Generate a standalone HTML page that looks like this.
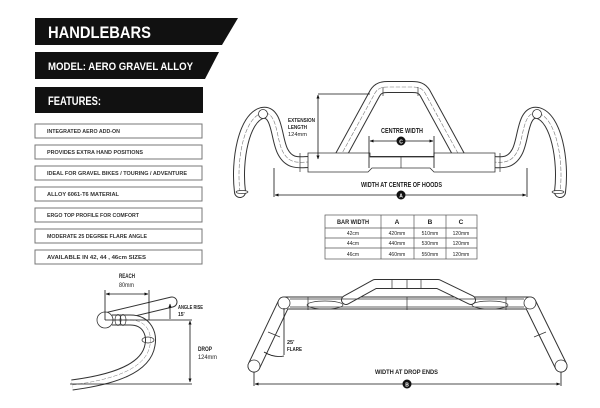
<!DOCTYPE html>
<html><head><meta charset="utf-8"><style>
html,body{margin:0;padding:0;background:#fff;}
svg{display:block;font-family:"Liberation Sans Narrow","Liberation Sans",sans-serif;font-weight:bold;}
</style></head><body>
<svg width="600" height="408" viewBox="0 0 600 408" xmlns="http://www.w3.org/2000/svg">
<defs>
<marker id="ar" viewBox="0 0 10 10" refX="9" refY="5" markerWidth="5" markerHeight="5" orient="auto-start-reverse"><path d="M0,1 L10,5 L0,9 z" fill="#111"/></marker>
</defs>
<!-- Banners -->
<polygon points="35,18 238,18 222,45 35,45" fill="#111"/>
<text x="48" y="38" fill="#fff" font-size="17" textLength="103" lengthAdjust="spacingAndGlyphs">HANDLEBARS</text>
<polygon points="35,52 219,52 205,79 35,79" fill="#111"/>
<text x="48" y="70" fill="#fff" font-size="11" textLength="145" lengthAdjust="spacingAndGlyphs">MODEL: AERO GRAVEL ALLOY</text>
<rect x="35" y="87" width="168" height="26" fill="#111"/>
<text x="48" y="105" fill="#fff" font-size="12" textLength="53" lengthAdjust="spacingAndGlyphs">FEATURES:</text>
<g fill="#fff" stroke="#777" stroke-width="1">
<rect x="35" y="124" width="167" height="14"/><rect x="35" y="145" width="167" height="14"/>
<rect x="35" y="166" width="167" height="14"/><rect x="35" y="187" width="167" height="14"/>
<rect x="35" y="208" width="167" height="14"/><rect x="35" y="229" width="167" height="14"/>
<rect x="35" y="250" width="167" height="14"/>
</g>
<g font-size="5" fill="#333" lengthAdjust="spacingAndGlyphs">
<text x="47" y="133" textLength="73" lengthAdjust="spacingAndGlyphs">INTEGRATED AERO ADD-ON</text>
<text x="47" y="154" textLength="96" lengthAdjust="spacingAndGlyphs">PROVIDES EXTRA HAND POSITIONS</text>
<text x="47" y="175" textLength="140" lengthAdjust="spacingAndGlyphs">IDEAL FOR GRAVEL BIKES / TOURING / ADVENTURE</text>
<text x="47" y="196" textLength="72" lengthAdjust="spacingAndGlyphs">ALLOY 6061-T6 MATERIAL</text>
<text x="47" y="217" textLength="92" lengthAdjust="spacingAndGlyphs">ERGO TOP PROFILE FOR COMFORT</text>
<text x="47" y="238" textLength="100" lengthAdjust="spacingAndGlyphs">MODERATE 25 DEGREE FLARE ANGLE</text>
<text x="47" y="259" textLength="99" lengthAdjust="spacingAndGlyphs">AVAILABLE IN 42, 44 , 46cm SIZES</text>
</g>

<!-- Top right handlebar -->
<g fill="none" stroke-linecap="round" stroke-linejoin="round">
<g stroke="#333" stroke-width="12">
<path d="M240,192 C236,160 244,118 262,113 C278,110 276,140 283,152 C290,165 300,162 310,162 L490,162 C500,162 510,165 517,152 C524,140 522,110 538,113 C556,118 564,160 560,192"/>
<path d="M340,157 L375,93 C378,88 382,87 388,87 L412,87 C418,87 422,88 425,93 L460,157"/>
</g>
<g stroke="#fff" stroke-width="10">
<path d="M240,192 C236,160 244,118 262,113 C278,110 276,140 283,152 C290,165 300,162 310,162 L490,162 C500,162 510,165 517,152 C524,140 522,110 538,113 C556,118 564,160 560,192"/>
<path d="M340,157 L375,93 C378,88 382,87 388,87 L412,87 C418,87 422,88 425,93 L460,157"/>
</g>
<path d="M240,192 C236,160 244,118 262,113 C278,110 276,140 283,152 C290,165 300,162 310,162 L490,162 C500,162 510,165 517,152 C524,140 522,110 538,113 C556,118 564,160 560,192" stroke="#777" stroke-width="0.6" stroke-dasharray="4,2"/>
<path d="M340,157 L375,93 C378,88 382,87 388,87 L412,87 C418,87 422,88 425,93 L460,157" stroke="#777" stroke-width="0.6" stroke-dasharray="4,2"/>
</g>
<path d="M308,153 L370,153 L370,157 L434,157 L434,153 L495,153 L495,172 L434,172 L430,168 L372,168 L368,172 L308,172 z" fill="#fff" stroke="#333" stroke-width="0.8"/>
<g stroke="#333" stroke-width="0.7">
<line x1="300" y1="153" x2="300" y2="172"/><line x1="500" y1="153" x2="500" y2="172"/>
<line x1="401" y1="157" x2="401" y2="168"/><line x1="383" y1="87" x2="383" y2="96"/><line x1="418" y1="87" x2="418" y2="96"/>
</g>
<circle cx="263" cy="114" r="4.5" fill="#fff" stroke="#333" stroke-width="0.8"/>
<circle cx="537" cy="114" r="4.5" fill="#fff" stroke="#333" stroke-width="0.8"/>
<ellipse cx="242" cy="192" rx="6" ry="1.5" fill="#fff" stroke="#333" stroke-width="0.7"/>
<ellipse cx="558" cy="192" rx="6" ry="1.5" fill="#fff" stroke="#333" stroke-width="0.7"/>
<g stroke="#111" stroke-width="0.8" fill="none">
<line x1="318" y1="94" x2="370" y2="94"/>
<line x1="318" y1="95" x2="318" y2="159" marker-start="url(#ar)" marker-end="url(#ar)"/>
<line x1="369" y1="136" x2="369" y2="168"/><line x1="434" y1="136" x2="434" y2="168"/>
<line x1="370" y1="141" x2="433" y2="141" marker-start="url(#ar)" marker-end="url(#ar)"/>
<line x1="274" y1="168" x2="274" y2="197"/><line x1="527" y1="168" x2="527" y2="197"/>
<line x1="275" y1="195" x2="526" y2="195" marker-start="url(#ar)" marker-end="url(#ar)"/>
</g>
<g font-size="5.5" fill="#222">
<text x="288" y="122" textLength="27" lengthAdjust="spacingAndGlyphs">EXTENSION</text><text x="288" y="129" textLength="19" lengthAdjust="spacingAndGlyphs">LENGTH</text><text x="288" y="136" font-weight="normal" textLength="19" lengthAdjust="spacingAndGlyphs">124mm</text>
</g>
<text x="381" y="133" font-size="7" fill="#222" textLength="42" lengthAdjust="spacingAndGlyphs">CENTRE WIDTH</text>
<text x="361" y="187" font-size="7" fill="#222" textLength="81" lengthAdjust="spacingAndGlyphs">WIDTH AT CENTRE OF HOODS</text>
<circle cx="401" cy="141" r="4.5" fill="#111"/><text x="401" y="143.5" font-size="5" fill="#fff" text-anchor="middle">C</text>
<circle cx="401" cy="195" r="4.5" fill="#111"/><text x="401" y="197.5" font-size="5" fill="#fff" text-anchor="middle">A</text>

<!-- Table -->
<g stroke="#555" stroke-width="0.7" fill="none">
<rect x="325" y="215" width="152" height="44"/>
<line x1="325" y1="228" x2="477" y2="228"/><line x1="325" y1="238" x2="477" y2="238"/><line x1="325" y1="248" x2="477" y2="248"/>
<line x1="381" y1="215" x2="381" y2="259"/><line x1="414" y1="215" x2="414" y2="259"/><line x1="446" y1="215" x2="446" y2="259"/>
</g>
<g font-size="6.5" fill="#222" text-anchor="middle">
<text x="353" y="224" textLength="32" lengthAdjust="spacingAndGlyphs">BAR WIDTH</text><text x="397" y="224">A</text><text x="430" y="224">B</text><text x="461" y="224">C</text>
</g>
<g font-size="5" fill="#222" text-anchor="middle" font-weight="normal">
<text x="353" y="235">42cm</text><text x="397" y="235">420mm</text><text x="430" y="235">510mm</text><text x="461" y="235">120mm</text>
<text x="353" y="245">44cm</text><text x="397" y="245">440mm</text><text x="430" y="245">530mm</text><text x="461" y="245">120mm</text>
<text x="353" y="256">46cm</text><text x="397" y="256">460mm</text><text x="430" y="256">550mm</text><text x="461" y="256">120mm</text>
</g>

<!-- Side view -->
<g fill="none" stroke-linecap="round">
<path d="M105,318 L172,302" stroke="#333" stroke-width="11"/>
<path d="M105,318 L172,302" stroke="#fff" stroke-width="9"/>
<path d="M112,320 L130,320 C148,320 152,335 150,345 C146,370 110,380 72,385" stroke="#333" stroke-width="11" stroke-linecap="butt"/>
<path d="M112,320 L130,320 C148,320 152,335 150,345 C146,370 110,380 72,385" stroke="#fff" stroke-width="9" stroke-linecap="butt"/>
<path d="M112,320 L130,320 C148,320 152,335 150,345 C146,370 110,380 72,385" stroke="#777" stroke-width="0.5" stroke-dasharray="4,2"/>
</g>
<circle cx="105" cy="320" r="8" fill="#fff" stroke="#333" stroke-width="0.8"/>
<ellipse cx="118" cy="320" rx="3" ry="5.5" fill="none" stroke="#333" stroke-width="0.7"/>
<ellipse cx="123" cy="320" rx="3" ry="5.5" fill="none" stroke="#333" stroke-width="0.7"/>
<ellipse cx="148" cy="340" rx="6" ry="3" fill="none" stroke="#333" stroke-width="0.7"/>
<g stroke="#111" stroke-width="0.8" fill="none">
<line x1="105" y1="290" x2="105" y2="320"/><line x1="149" y1="290" x2="149" y2="320"/>
<line x1="106" y1="294" x2="148" y2="294" marker-start="url(#ar)" marker-end="url(#ar)"/>
<line x1="105" y1="320" x2="192" y2="320"/>
<line x1="170" y1="304" x2="170" y2="319" marker-start="url(#ar)"/>
<line x1="190" y1="321" x2="190" y2="382" marker-start="url(#ar)" marker-end="url(#ar)"/>
<line x1="70" y1="384" x2="192" y2="384"/>
</g>
<g font-size="6" fill="#222">
<text x="119" y="278" textLength="16" lengthAdjust="spacingAndGlyphs">REACH</text><text x="119" y="287" font-weight="normal" textLength="15" lengthAdjust="spacingAndGlyphs">80mm</text>
<text x="178" y="309" font-size="5" textLength="25" lengthAdjust="spacingAndGlyphs">ANGLE RISE</text><text x="178" y="316" font-size="5">15'</text>
<text x="198" y="351" textLength="14" lengthAdjust="spacingAndGlyphs">DROP</text><text x="198" y="359" font-weight="normal" textLength="19" lengthAdjust="spacingAndGlyphs">124mm</text>
</g>

<!-- Front view -->
<g fill="none" stroke-linecap="round" stroke-linejoin="round">
<path d="M254,366 L284,303 L530,303 L561,366" stroke="#333" stroke-width="13"/>
<path d="M254,366 L284,303 L530,303 L561,366" stroke="#fff" stroke-width="11"/>
<path d="M346,300 L375,284 L438,284 L471,300" stroke="#333" stroke-width="10"/>
<path d="M346,300 L375,284 L438,284 L471,300" stroke="#fff" stroke-width="8"/>
</g>
<g stroke="#333" stroke-width="0.7" fill="none">
<line x1="290" y1="299" x2="524" y2="299"/><line x1="290" y1="307" x2="524" y2="307"/>
<ellipse cx="325" cy="305" rx="18" ry="4"/><ellipse cx="490" cy="305" rx="18" ry="4"/>
<line x1="308" y1="297" x2="308" y2="310"/><line x1="506" y1="297" x2="506" y2="310"/>
<line x1="407" y1="297" x2="407" y2="310"/><line x1="392" y1="279" x2="392" y2="289"/><line x1="421" y1="279" x2="421" y2="289"/><line x1="407" y1="279" x2="407" y2="289"/>
<line x1="268" y1="332" x2="280" y2="337"/><line x1="534" y1="337" x2="546" y2="332"/>
</g>
<circle cx="284" cy="303" r="6" fill="#fff" stroke="#333" stroke-width="0.8"/>
<circle cx="530" cy="303" r="6" fill="#fff" stroke="#333" stroke-width="0.8"/>
<circle cx="254" cy="366" r="6" fill="#fff" stroke="#333" stroke-width="0.8"/>
<circle cx="561" cy="366" r="6" fill="#fff" stroke="#333" stroke-width="0.8"/>
<g stroke="#111" stroke-width="0.8" fill="none">
<line x1="284" y1="308" x2="284" y2="355"/>
<path d="M264,352 Q274,358 284,356"/>
<line x1="254" y1="372" x2="254" y2="386"/><line x1="561" y1="372" x2="561" y2="386"/>
<line x1="255" y1="384" x2="560" y2="384" marker-start="url(#ar)" marker-end="url(#ar)"/>
</g>
<g font-size="5.5" fill="#222"><text x="287" y="344">25'</text><text x="287" y="351" textLength="15" lengthAdjust="spacingAndGlyphs">FLARE</text></g>
<text x="375" y="374" font-size="6.5" fill="#222" textLength="63" lengthAdjust="spacingAndGlyphs">WIDTH AT DROP ENDS</text>
<circle cx="407" cy="384" r="4.5" fill="#111"/><text x="407" y="386.5" font-size="5" fill="#fff" text-anchor="middle">B</text>
</svg>
</body></html>
